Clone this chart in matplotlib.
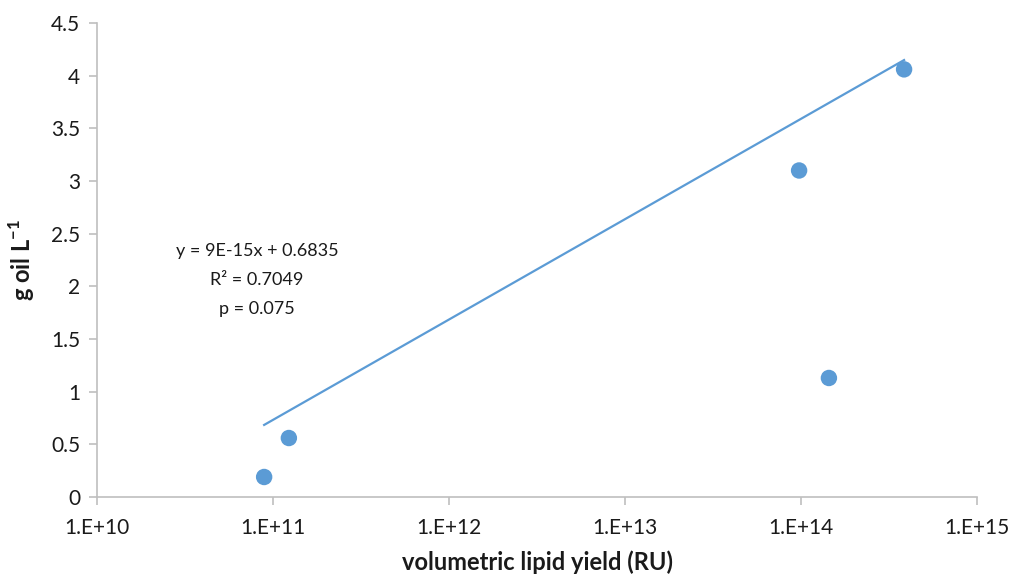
import matplotlib.pyplot as plt
import numpy as np

plt.rcParams['font.family'] = ['Lato', 'DejaVu Sans']
plt.rcParams['mathtext.fontset'] = 'custom'
plt.rcParams['mathtext.rm'] = 'Lato'
plt.rcParams['mathtext.bf'] = 'Lato:bold'

# volumetric lipid yield (RU) vs g oil per litre
lipid_yield = np.array([8.9e10, 1.23e11, 9.75e13, 1.44e14, 3.85e14])
oil = np.array([0.19, 0.56, 3.10, 1.13, 4.06])

# linear fit reported by the spreadsheet
slope = 9e-15
intercept = 0.6835
r2 = 0.7049
p_value = 0.075

x_ticks = [1e10, 1e11, 1e12, 1e13, 1e14, 1e15]
x_labels = ['1.E+10', '1.E+11', '1.E+12', '1.E+13', '1.E+14', '1.E+15']
y_ticks = [0, 0.5, 1, 1.5, 2, 2.5, 3, 3.5, 4, 4.5]

blue = '#5B9BD5'
grey = '#BFBFBF'
text_col = '#1a1a1a'

fig = plt.figure(figsize=(10.13, 5.80), dpi=100)
ax = fig.add_axes([0.0958, 0.1431, 0.8687, 0.8172])

# trend line between the smallest and largest x
trend_x = np.array([lipid_yield.min(), lipid_yield.max()])
trend_y = slope * trend_x + intercept
ax.plot(trend_x, trend_y, color=blue, lw=1.6, zorder=2)
ax.scatter(lipid_yield, oil, s=140, color=blue, edgecolors='none', zorder=3)

ax.set_xscale('log')
ax.set_xlim(1e10, 1e15)
ax.set_ylim(0, 4.5)
ax.set_xticks(x_ticks)
ax.set_xticklabels(x_labels)
ax.minorticks_off()
ax.set_yticks(y_ticks)
ax.set_yticklabels([f'{v:g}' for v in y_ticks])

for side in ['top', 'right']:
    ax.spines[side].set_visible(False)
for side in ['left', 'bottom']:
    ax.spines[side].set_color(grey)
    ax.spines[side].set_linewidth(1.2)
ax.tick_params(axis='both', colors=grey, labelcolor=text_col, labelsize=15,
               length=6, width=1.2, direction='out')
ax.tick_params(axis='x', pad=9)
ax.tick_params(axis='y', pad=6)

ax.set_xlabel('volumetric lipid yield (RU)', fontsize=17, fontweight='bold',
              color=text_col, labelpad=9)
ax.set_ylabel(r'g oil L$^{\mathbf{-1}}$', fontsize=17, fontweight='bold',
              color=text_col, labelpad=10)

fig.text(257 / 1013, 1 - 280 / 580,
         f'y = 9E-15x + {intercept}\nR² = {r2}\np = {p_value}',
         ha='center', va='center', fontsize=13, color=text_col, linespacing=2.0)

fig.savefig('out.png', dpi=100)
